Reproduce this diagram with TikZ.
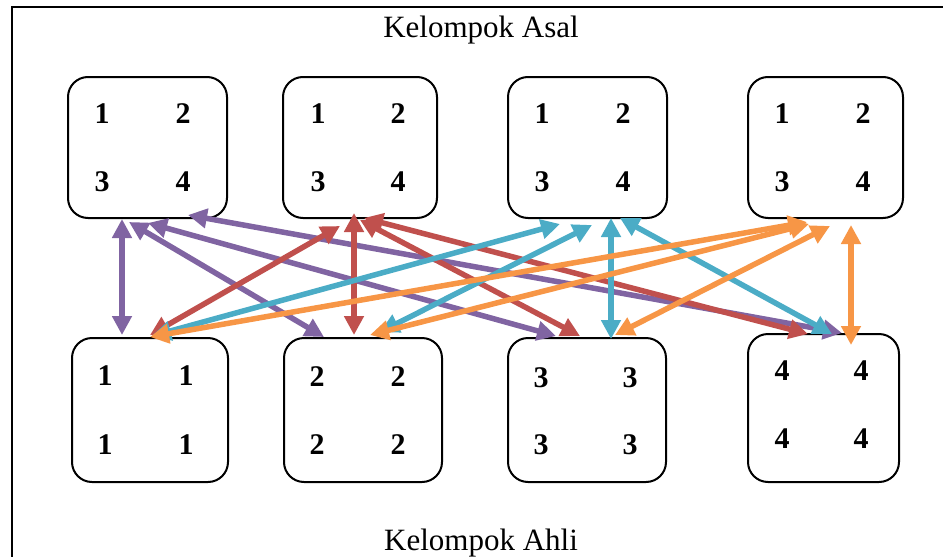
\documentclass[tikz,border=0pt]{standalone}
\usepackage{fontspec}
\setmainfont{Liberation Serif}
\usetikzlibrary{arrows.meta}

\definecolor{cpurple}{HTML}{8064A2}
\definecolor{cred}{HTML}{C0504D}
\definecolor{cteal}{HTML}{4BACC6}
\definecolor{corange}{HTML}{F79646}

\tikzset{
  grp/.style={draw=black, line width=2pt, rounded corners=20pt, fill=white,
              inner sep=0pt, outer sep=0pt},
  num/.style={font=\fontsize{30}{30}\selectfont\bfseries, inner sep=0pt},
  caption/.style={font=\fontsize{31}{31}\selectfont, inner sep=0pt, anchor=base},
  link/.style={line width=5.5pt, {Triangle[length=19pt,width=19pt]}-{Triangle[length=19pt,width=19pt]}},
}

\begin{document}
\begin{tikzpicture}[x=1pt,y=-1pt]
\useasboundingbox (0,0) rectangle (943,557);

% frame
\draw[line width=2.8pt] (12,557) -- (12,7) -- (943,7);

% captions
\node[caption] (asal) at (481,37) {Kelompok Asal};
\node[caption] (ahli) at (481,550) {Kelompok Ahli};

% home groups
\node[grp, minimum width=159pt, minimum height=141pt] (t1) at (147.5,147.5) {};
\node[grp, minimum width=154pt, minimum height=141pt] (t2) at (360,147.5) {};
\node[grp, minimum width=159pt, minimum height=141pt] (t3) at (587.5,147.5) {};
\node[grp, minimum width=155pt, minimum height=141pt] (t4) at (825.5,147.5) {};

% expert groups
\node[grp, minimum width=156pt, minimum height=144pt] (b1) at (150,410) {};
\node[grp, minimum width=158pt, minimum height=144pt] (b2) at (363,410) {};
\node[grp, minimum width=158pt, minimum height=144pt] (b3) at (587,410) {};
\node[grp, minimum width=151pt, minimum height=148pt] (b4) at (823.5,408) {};

% member numbers, home groups
\node[num] (t1a) at (102,114) {1}; \node[num] (t1b) at (183,114) {2};
\node[num] (t1c) at (102,182) {3}; \node[num] (t1d) at (183,182) {4};
\node[num] (t2a) at (318,114) {1}; \node[num] (t2b) at (398,114) {2};
\node[num] (t2c) at (318,182) {3}; \node[num] (t2d) at (398,182) {4};
\node[num] (t3a) at (542,114) {1}; \node[num] (t3b) at (623,114) {2};
\node[num] (t3c) at (542,182) {3}; \node[num] (t3d) at (623,182) {4};
\node[num] (t4a) at (782,114) {1}; \node[num] (t4b) at (863,114) {2};
\node[num] (t4c) at (782,182) {3}; \node[num] (t4d) at (863,182) {4};

% member numbers, expert groups
\node[num] (b1a) at (105,376) {1}; \node[num] (b1b) at (186,376) {1};
\node[num] (b1c) at (105,445) {1}; \node[num] (b1d) at (186,445) {1};
\node[num] (b2a) at (317,377) {2}; \node[num] (b2b) at (398,377) {2};
\node[num] (b2c) at (317,445) {2}; \node[num] (b2d) at (398,445) {2};
\node[num] (b3a) at (541,378) {3}; \node[num] (b3b) at (630,378) {3};
\node[num] (b3c) at (541,445) {3}; \node[num] (b3d) at (630,445) {3};
\node[num] (b4a) at (782,371) {4}; \node[num] (b4b) at (861,371) {4};
\node[num] (b4c) at (782,439) {4}; \node[num] (b4d) at (861,439) {4};

% arrow end points under the home groups
\coordinate (p1u) at (122,219);
\coordinate (p2u) at (129,222);
\coordinate (p3u) at (148,223);
\coordinate (p4u) at (188,215);
\coordinate (r1u) at (354,213);
\coordinate (r2u) at (340,226);
\coordinate (r3u) at (360,220);
\coordinate (r4u) at (364,218);
\coordinate (c1u) at (611,218);
\coordinate (c2u) at (560,224);
\coordinate (c3u) at (592,225);
\coordinate (c4u) at (620,218);
\coordinate (o1u) at (851,225);
\coordinate (o2u) at (807,222);
\coordinate (o3u) at (809,224);
\coordinate (o4u) at (830,226);

% arrow end points above the expert groups
\coordinate (p1d) at (122,335);
\coordinate (p2d) at (324,337);
\coordinate (p3d) at (556,336);
\coordinate (p4d) at (842,333);
\coordinate (r1d) at (354,335);
\coordinate (r2d) at (150,335);
\coordinate (r3d) at (580,336);
\coordinate (r4d) at (808,334);
\coordinate (c1d) at (611,339);
\coordinate (c2d) at (152,336);
\coordinate (c3d) at (380,332);
\coordinate (c4d) at (832,334);
\coordinate (o1d) at (851,345);
\coordinate (o2d) at (150,337);
\coordinate (o3d) at (370,335);
\coordinate (o4d) at (615,335);

% member 1
\draw[link, cpurple] (p1u) -- (p1d);
\draw[link, cpurple] (p2u) -- (p2d);
\draw[link, cpurple] (p3u) -- (p3d);
\draw[link, cpurple] (p4u) -- (p4d);
% member 2
\draw[link, cred] (r1u) -- (r1d);
\draw[link, cred] (r2u) -- (r2d);
\draw[link, cred] (r3u) -- (r3d);
\draw[link, cred] (r4u) -- (r4d);
% member 3
\draw[link, cteal] (c1u) -- (c1d);
\draw[link, cteal] (c2u) -- (c2d);
\draw[link, cteal] (c3u) -- (c3d);
\draw[link, cteal] (c4u) -- (c4d);
% member 4
\draw[link, corange] (o1u) -- (o1d);
\draw[link, corange] (o2u) -- (o2d);
\draw[link, corange] (o3u) -- (o3d);
\draw[link, corange] (o4u) -- (o4d);
\end{tikzpicture}
\end{document}
